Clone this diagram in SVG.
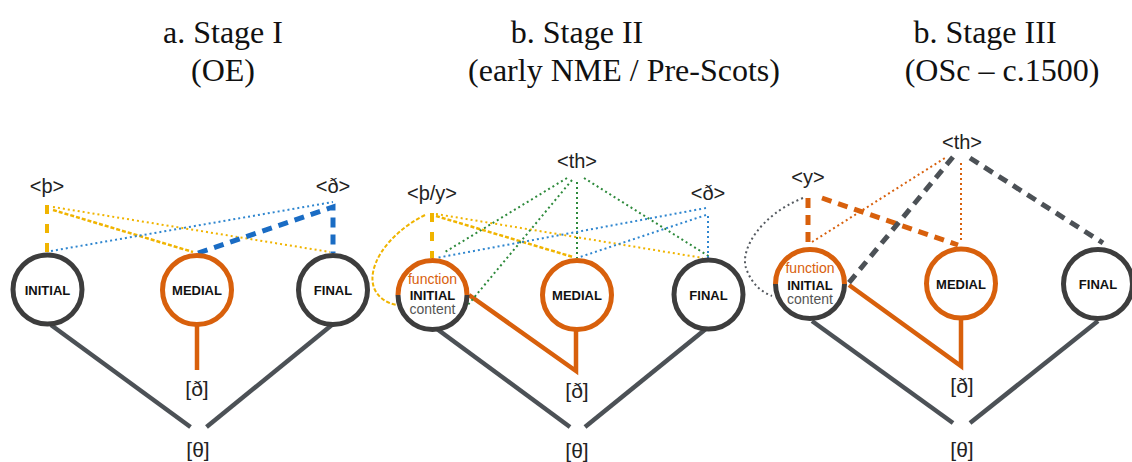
<svg xmlns="http://www.w3.org/2000/svg" width="1132" height="462" viewBox="0 0 1132 462">
<defs>
<style>
.title{font-family:"Liberation Serif","Times New Roman",serif;font-size:32px;fill:#111;text-anchor:middle}
.lbl{font-family:"Liberation Sans",Arial,sans-serif;font-size:20px;fill:#222;text-anchor:middle}
.ph{font-family:"Liberation Sans",Arial,sans-serif;font-size:21px;fill:#222;text-anchor:middle}
.nt{font-family:"Liberation Sans",Arial,sans-serif;font-size:13px;font-weight:bold;fill:#111;text-anchor:middle}
.fn{font-family:"Liberation Sans",Arial,sans-serif;font-size:14px;fill:#d8600c;text-anchor:middle}
.ct{font-family:"Liberation Sans",Arial,sans-serif;font-size:14px;fill:#555;text-anchor:middle}
.cg{fill:#fff;stroke:#3d3d3d;stroke-width:5}
.co{fill:#fff;stroke:#d8600c;stroke-width:5}
.arc-o{fill:none;stroke:#d8600c;stroke-width:5}
.arc-g{fill:none;stroke:#3d3d3d;stroke-width:5}
.tree{fill:none;stroke:#4c5156;stroke-width:4.5}
.otree{fill:none;stroke:#d8600c;stroke-width:4.5}
.dash{fill:none;stroke-width:5;stroke-dasharray:10 7}
.dot{fill:none;stroke-width:2;stroke-dasharray:2 3}
.dense{fill:none;stroke-width:2.5;stroke-dasharray:4 2}
.y{stroke:#f0b400}
.b{stroke:#1a6cc4}
.bd{stroke:#2f86cf}
.g{stroke:#2e8a3c}
.o{stroke:#d8600c}
.k{stroke:#4c5156}
.kd{stroke:#555a60}
</style>
</defs>
<g id="titles">
<text class="title" x="223" y="43">a. Stage I</text>
<text class="title" x="223" y="81">(OE)</text>
<text class="title" x="577" y="43">b. Stage II</text>
<text class="title" x="624" y="81">(early NME / Pre-Scots)</text>
<text class="title" x="985" y="43">b. Stage III</text>
<text class="title" x="1002" y="81">(OSc – c.1500)</text>
</g>
<g id="connectors">
<!-- Panel 1 -->
<line class="tree" x1="51" y1="325" x2="190.5" y2="427"/>
<line class="tree" x1="206.5" y1="427" x2="333" y2="324"/>
<line class="otree" x1="197" y1="326" x2="197" y2="370"/>
<line class="dash y" x1="47" y1="205" x2="47" y2="253" style="stroke-width:4;stroke-dasharray:9 10"/>
<line class="dot y" x1="53" y1="207" x2="330" y2="252"/>
<line class="dense y" x1="53" y1="210" x2="193" y2="252"/>
<line class="dot bd" x1="51" y1="251" x2="333" y2="202"/>
<polyline class="dash b" points="198,253 333,207 333,253"/>
<!-- Panel 2 -->
<line class="tree" x1="437" y1="329" x2="570" y2="427"/>
<line class="tree" x1="585" y1="427" x2="707" y2="328"/>
<polyline class="otree" points="469,295 576,371 576,330"/>
<line class="dash y" x1="432" y1="213" x2="432" y2="258" style="stroke-width:4;stroke-dasharray:9 10"/>
<line class="dot y" x1="436" y1="214" x2="703" y2="258"/>
<line class="dense y" x1="436" y1="216" x2="573" y2="257"/>
<path class="dense y" d="M425,215 C385,235 365,270 375,290 C380,300 390,304 397,305" style="stroke-width:2"/>
<line class="dot g" x1="567" y1="178" x2="445" y2="252"/>
<line class="dot g" x1="572" y1="180" x2="467" y2="306"/>
<line class="dot g" x1="577" y1="182" x2="577" y2="258"/>
<line class="dot g" x1="584" y1="178" x2="710" y2="257"/>
<line class="dot bd" x1="706" y1="208" x2="436" y2="258"/>
<line class="dot bd" x1="706" y1="215" x2="580" y2="257"/>
<line class="dot bd" x1="708" y1="216" x2="708" y2="258"/>
<!-- Panel 3 -->
<line class="tree" x1="812" y1="321" x2="953" y2="423"/>
<line class="tree" x1="970" y1="423" x2="1098" y2="321"/>
<polyline class="otree" points="849,285 961,366 961,320"/>
<line class="dash o" x1="808" y1="198" x2="808" y2="245"/>
<line class="dash o" x1="822" y1="198" x2="958" y2="245"/>
<line class="dot o" x1="812" y1="242" x2="945" y2="158"/>
<line class="dot o" x1="961" y1="163" x2="961" y2="243"/>
<line class="dash k" x1="953" y1="157" x2="847" y2="285"/>
<line class="dash k" x1="970" y1="158" x2="1103" y2="243"/>
<path class="dot kd" d="M803,198 C760,215 740,250 746,268 C752,285 762,292 772,296"/>
</g>
<g id="p1-initial"><circle class="cg" cx="47.5" cy="289.5" r="34.5"/><text class="nt" x="47.5" y="294.5">INITIAL</text></g>
<g id="p1-medial"><circle class="co" cx="197" cy="290" r="34.5"/><text class="nt" x="197" y="295">MEDIAL</text></g>
<g id="p1-final"><circle class="cg" cx="333" cy="290" r="34.5"/><text class="nt" x="333" y="295">FINAL</text></g>
<g id="p1-thorn"><text class="lbl" x="47" y="193">&lt;þ&gt;</text></g>
<g id="p1-eth"><text class="lbl" x="333" y="193">&lt;ð&gt;</text></g>
<g id="p1-eth-out"><text class="ph" x="197" y="396">[ð]</text></g>
<g id="p1-theta"><text class="ph" x="198" y="457">[θ]</text></g>

<g id="p2-initial">
<circle cx="432.5" cy="295" r="34.5" fill="#fff"/>
<path class="arc-o" d="M398,295 A34.5,34.5 0 0 1 467,295"/>
<path class="arc-g" d="M467,295 A34.5,34.5 0 0 1 398,295"/>
<text class="fn" x="432.5" y="284">function</text>
<text class="nt" x="432.5" y="299.5">INITIAL</text>
<text class="ct" x="432.5" y="313.5">content</text>
</g>
<g id="p2-medial"><circle class="co" cx="577" cy="295" r="34.5"/><text class="nt" x="577" y="300">MEDIAL</text></g>
<g id="p2-final"><circle class="cg" cx="708.5" cy="294.5" r="34.5"/><text class="nt" x="708.5" y="299.5">FINAL</text></g>
<g id="p2-th"><text class="lbl" x="577" y="168">&lt;th&gt;</text></g>
<g id="p2-thorn-y"><text class="lbl" x="432" y="200">&lt;þ/y&gt;</text></g>
<g id="p2-eth"><text class="lbl" x="708" y="200">&lt;ð&gt;</text></g>
<g id="p2-eth-out"><text class="ph" x="577" y="398">[ð]</text></g>
<g id="p2-theta"><text class="ph" x="577" y="458">[θ]</text></g>

<g id="p3-initial">
<circle cx="810" cy="284" r="34.5" fill="#fff"/>
<path class="arc-o" d="M775.5,284 A34.5,34.5 0 0 1 844.5,284"/>
<path class="arc-g" d="M844.5,284 A34.5,34.5 0 0 1 775.5,284"/>
<text class="fn" x="810" y="273">function</text>
<text class="nt" x="810" y="289.5">INITIAL</text>
<text class="ct" x="810" y="304">content</text>
</g>
<g id="p3-medial"><circle class="co" cx="961" cy="283.5" r="34.5"/><text class="nt" x="961" y="288.5">MEDIAL</text></g>
<g id="p3-final"><circle class="cg" cx="1098" cy="284" r="34.5"/><text class="nt" x="1098" y="289">FINAL</text></g>
<g id="p3-th"><text class="lbl" x="962" y="149">&lt;th&gt;</text></g>
<g id="p3-y"><text class="lbl" x="808" y="184">&lt;y&gt;</text></g>
<g id="p3-eth-out"><text class="ph" x="962" y="393">[ð]</text></g>
<g id="p3-theta"><text class="ph" x="962" y="457">[θ]</text></g>
</svg>
